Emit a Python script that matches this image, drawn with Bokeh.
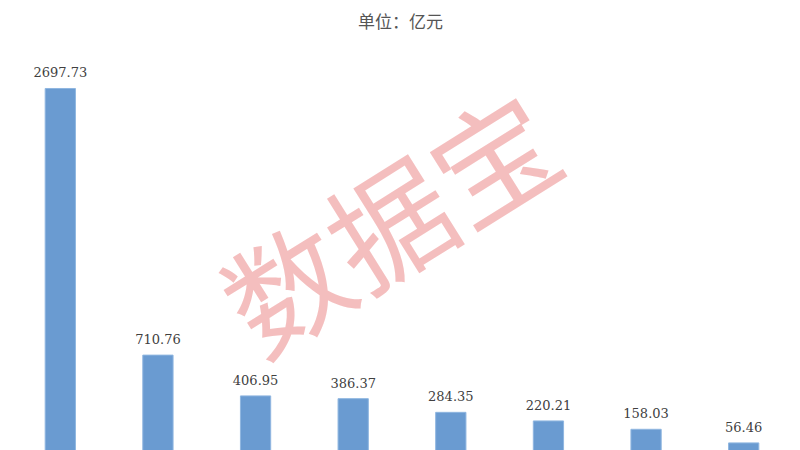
from bokeh.plotting import figure
from bokeh.models import ColumnDataSource, LabelSet, Label, Range1d, FactorRange
from bokeh.core.properties import value
from bokeh.embed import file_html
from bokeh.resources import INLINE

categories = ["1", "2", "3", "4", "5", "6", "7", "8"]
values = [2697.73, 710.76, 406.95, 386.37, 284.35, 220.21, 158.03, 56.46]
value_labels = ["2697.73", "710.76", "406.95", "386.37", "284.35", "220.21", "158.03", "56.46"]
title_text = "单位：亿元"
watermark_text = "数据宝"

src = ColumnDataSource(dict(cat=categories, val=values, lab=value_labels))

p = figure(width=800, height=450, x_range=FactorRange(*categories),
           y_range=Range1d(0, 3353.5), output_backend="svg", toolbar_location=None,
           min_border_left=11, min_border_right=8, min_border_top=0, min_border_bottom=0)
p.axis.visible = False
p.grid.visible = False
p.outline_line_color = None
p.background_fill_color = "white"

p.vbar(x="cat", top="val", bottom=0, width=0.31, source=src,
       fill_color="#6a9bd1", line_color="#8fb6e0", line_width=1)

p.add_layout(LabelSet(x="cat", y="val", text="lab", source=src, text_align="center",
                      text_baseline="alphabetic", y_offset=11,
                      text_font=value("DejaVu Serif"),
                      text_font_size="13px", text_color="#404040"))

p.add_layout(Label(x=389, y=450 - 20, x_units="screen", y_units="screen", text=title_text,
                   text_align="center", text_baseline="middle", text_font="Noto Sans CJK SC",
                   text_font_size="17px", text_color="#555555"))

p.add_layout(Label(x=376, y=450 - 218, x_units="screen", y_units="screen", text=watermark_text,
                   text_align="center", text_baseline="middle", text_font="Noto Sans CJK SC",
                   text_font_size="122px", text_color="#f0a8a8", text_alpha=0.75,
                   angle=32, angle_units="deg"))

open("out.html", "w").write(file_html(p, INLINE))
